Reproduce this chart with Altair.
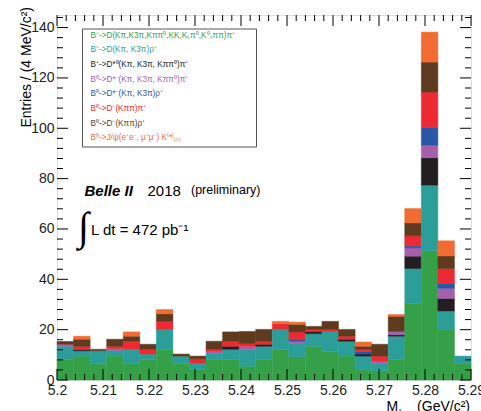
import altair as alt
import pandas as pd
import numpy as np

# ---- data (25 bins of 3.6 MeV from 5.2 to 5.29 GeV/c^2) ----
bin_lo = 5.2
bin_w = 0.0036
n_bins = 25

series = [
    "B+->D pi", "B+->D rho", "B+->D*0 pi", "B0->D*- pi",
    "B0->D*- rho", "B0->D- pi", "B0->D- rho", "B0->J/psi K",
]
colors = ["#34a048", "#2c9e9a", "#231f20", "#a55fab",
          "#2a56a6", "#ed2a33", "#5e3a1e", "#f26b30"]

green  = [8.2, 9.5, 6.6, 9.5, 6.6, 8.2, 12.2, 6.6, 4.2, 8.2, 8.2, 5.5, 8.2, 12.1, 9.2, 13.4, 11.4, 9.5, 4.3, 3.7, 8.2, 30.4, 51.3, 20.2, 6.6]
teal   = [5.2, 2.1, 5.0, 2.3, 5.6, 2.1, 7.9, 2.9, 2.4, 2.3, 4.0, 6.7, 5.2, 8.0, 5.3, 5.0, 7.9, 5.9, 5.2, 2.9, 9.2, 13.9, 26.1, 7.2, 2.9]
black  = [0, 0.5, 0, 0, 0, 0, 0, 0, 0, 0, 1.2, 0, 0.8, 0, 0, 0.9, 0, 0.8, 0.8, 0, 0.6, 4.9, 10.9, 5.0, 0]
purple = [0.8, 0, 0, 0.7, 0, 0, 0, 0, 0, 0.9, 0, 1.2, 0, 0, 1.0, 0, 0, 0, 0, 0.9, 1.3, 3.3, 5.0, 4.0, 0]
blue   = [0, 0, 0, 0, 0, 0, 0, 0, 0, 0, 0, 0, 0, 0, 0.7, 0, 0, 0, 1.1, 0, 0, 0.8, 7.0, 2.0, 0]
red    = [0, 1.3, 0, 0.9, 3.2, 1.9, 3.2, 0, 1.8, 0.8, 2.0, 1.1, 1.2, 2.3, 2.9, 0.8, 0.8, 1.2, 0.8, 2.0, 0, 4.0, 14.1, 5.9, 0]
brown  = [1.1, 2.8, 0.6, 2.8, 2.0, 2.0, 3.0, 0.8, 1.1, 3.2, 3.7, 4.8, 4.7, 0, 3.0, 1.2, 3.2, 2.7, 1.2, 4.7, 6.0, 5.1, 11.9, 5.0, 0]
orange = [0, 1.2, 0, 0, 1.7, 0, 1.7, 0, 0, 0, 0, 0, 0, 0.9, 0.9, 0, 0, 0, 1.7, 0, 0.7, 5.7, 11.9, 6.0, 0]

values = [green, teal, black, purple, blue, red, brown, orange]

legend_labels = [
    "B⁺->D(Kπ,K3π,Kππ⁰,KK,Kₛπ⁰,K⁰ₛππ)π⁺",
    "B⁺->D(Kπ, K3π)ρ⁺",
    "B⁺->D*⁰(Kπ, K3π, Kππ⁰)π⁺",
    "B⁰->D*⁻(Kπ, K3π, Kππ⁰)π⁺",
    "B⁰->D*⁻(Kπ, K3π)ρ⁺",
    "B⁰->D⁻(Kππ)π⁺",
    "B⁰->D⁻(Kππ)ρ⁺",
    "B⁰->J/ψ(e⁺e⁻, μ⁺μ⁻) K⁽*⁾₍ₛ₎",
]

x_major = [5.20, 5.21, 5.22, 5.23, 5.24, 5.25, 5.26, 5.27, 5.28, 5.29]
y_major = [0, 20, 40, 60, 80, 100, 120, 140]

# ---- build table (stack computed from the component values) ----
rows = []
for b in range(n_bins):
    lo = round(bin_lo + b * bin_w, 5)
    base = 0.0
    for s_i, (name, vals) in enumerate(zip(series, values)):
        v = vals[b]
        if v > 0:
            rows.append({"lo": lo, "hi": round(lo + bin_w, 5), "comp": name,
                         "y0": base, "y1": base + v})
        base += v
df = pd.DataFrame(rows)

W, H = 414, 365
FONT = "Liberation Sans"

xs = alt.Scale(domain=[5.2, 5.29], nice=False, zero=False)
ys = alt.Scale(domain=[0, 145], nice=False)
cs = alt.Scale(domain=series, range=colors)

bars = alt.Chart(df).mark_bar(strokeWidth=0.5).encode(
    x=alt.X("lo:Q", scale=xs, axis=alt.Axis(
        values=x_major, format=".3~f", title=None, domain=False, ticks=False,
        tickSize=0, grid=False, labelFont=FONT, labelFontSize=14,
        labelPadding=3, labelFlush=False, labelColor="#222", labelOverlap=False)),
    x2="hi:Q",
    y=alt.Y("y0:Q", scale=ys, axis=alt.Axis(
        values=y_major, title=None, domain=False, ticks=False, tickSize=0,
        grid=False, labelFont=FONT, labelFontSize=14, labelPadding=3,
        labelFlush=False, labelColor="#222")),
    y2="y1:Q",
    color=alt.Color("comp:N", scale=cs, legend=None),
    stroke=alt.Stroke("comp:N", scale=cs, legend=None),
)

# ---- inward ticks ----
x_minor = [round(5.2 + 0.002 * i, 4) for i in range(46)]
x_minor = [v for v in x_minor if all(abs(v - m) > 1e-6 for m in x_major)]
y_minor = [v for v in range(0, 146, 4) if v % 20 != 0]

dxM = pd.DataFrame({"v": x_major})
dxm = pd.DataFrame({"v": x_minor})
dyM = pd.DataFrame({"v": y_major})
dym = pd.DataFrame({"v": y_minor})

def xticks(d, L):
    b = alt.Chart(d).mark_rule(color="black", strokeWidth=1).encode(
        x=alt.X("v:Q", scale=xs), y=alt.value(H - L), y2=alt.value(H))
    t = alt.Chart(d).mark_rule(color="black", strokeWidth=1).encode(
        x=alt.X("v:Q", scale=xs), y=alt.value(0), y2=alt.value(L))
    return [b, t]

def yticks(d, L):
    l = alt.Chart(d).mark_rule(color="black", strokeWidth=1).encode(
        y=alt.Y("v:Q", scale=ys), x=alt.value(0), x2=alt.value(L))
    r = alt.Chart(d).mark_rule(color="black", strokeWidth=1).encode(
        y=alt.Y("v:Q", scale=ys), x=alt.value(W - L), x2=alt.value(W))
    return [l, r]

ticks = xticks(dxM, 11) + xticks(dxm, 6) + yticks(dyM, 11) + yticks(dym, 6)

one = pd.DataFrame({"a": [0]})

def txt(text, x, y, size, color="black", align="left", baseline="alphabetic",
        angle=0, weight="normal", style="normal", font=FONT):
    kw = dict(align=align, baseline=baseline, fontSize=size, font=font,
              color=color, fontWeight=weight, fontStyle=style)
    if angle:
        kw["angle"] = angle
    return alt.Chart(one).mark_text(**kw).encode(
        x=alt.value(x), y=alt.value(y), text=alt.value(text))

# legend box
legend_box = alt.Chart(one).mark_rect(fill="white", stroke="#555", strokeWidth=1).encode(
    x=alt.value(25.5), x2=alt.value(199.5), y=alt.value(14), y2=alt.value(132))

legend_txt = []
for i, (lab, c) in enumerate(zip(legend_labels, colors)):
    legend_txt.append(txt(lab, 33.5, 20.7 + 14.65 * i, 8.2, color=c, baseline="middle"))

annot = [
    txt("Belle II", 27.5, 181, 15, weight="bold", style="italic"),
    txt("2018", 90.5, 181, 15),
    txt("(preliminary)", 134, 179, 12.5),
    txt("∫", 21, 225, 40, baseline="alphabetic", font="Liberation Serif"),
    txt("L dt  = 472 pb⁻¹", 34, 220, 15),
    # axis titles
    txt("Entries / (4 MeV/c²)", -26.5, -8, 14, align="right", angle=270),
    txt("M", 329.5, 395.5, 14),
    txt("bc", 342, 401, 9.5),
    txt("(GeV/c²)", 413, 395.5, 14, align="right"),
]

chart = alt.layer(bars, *ticks, legend_box, *legend_txt, *annot).properties(
    width=W, height=H,
    autosize=alt.AutoSizeParams(type="none"),
    padding={"left": 57, "top": 15, "right": 10, "bottom": 31},
).configure_view(stroke="black", strokeWidth=1.2).configure(background="white")

chart.save("out.html", embed_options={"renderer": "svg", "actions": False})
